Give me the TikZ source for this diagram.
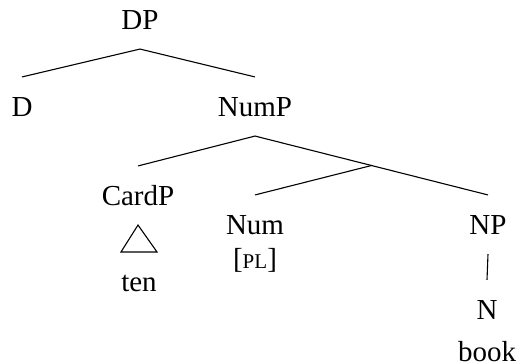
\documentclass[tikz,border=0pt]{standalone}
\usepackage{fontspec}
\setmainfont{Liberation Serif}
\usetikzlibrary{calc}

\begin{document}
\begin{tikzpicture}[x=1pt,y=-1pt,line width=1.1pt,
    cat/.style={anchor=base,font=\fontsize{29}{34}\selectfont,
      inner xsep=0pt,inner ysep=19.5pt,text height=19pt,text depth=0pt}]
    \useasboundingbox (0,0) rectangle (520,364);
    \node[cat] (DP) at (140,29) {DP};
    \node[cat] (D) at (22,116) {D};
    \node[cat] (NumP) at (255,116) {NumP};
    \node[cat] (CardP) at (138,205) {CardP};
    \node[cat] (ten) at (139,291) {ten};
    \node[cat] (Num) at (255,234) {Num};
    \node[cat] (PL) at (255,268.5) {[{\fontsize{21}{25}\selectfont PL}]};
    \node[cat] (NP) at (488,234) {NP};
    \node[cat] (N) at (487,319) {N};
    \node[cat] (book) at (487,361) {book};

    \draw (D.north) -- (DP.south) -- (NumP.north);
    \draw (CardP.north) -- (NumP.south) -- (NP.north);
    \coordinate (mid) at ($(NumP.south)!0.5!(NP.north)$);
    \draw (mid) -- (Num.north);
    \draw (NP.south) -- (N.north);
    % roof over CardP
    \draw (CardP.south) -- ([xshift=-18pt]ten.north) -- ([xshift=18pt]ten.north) -- cycle;
  \end{tikzpicture}
\end{document}
